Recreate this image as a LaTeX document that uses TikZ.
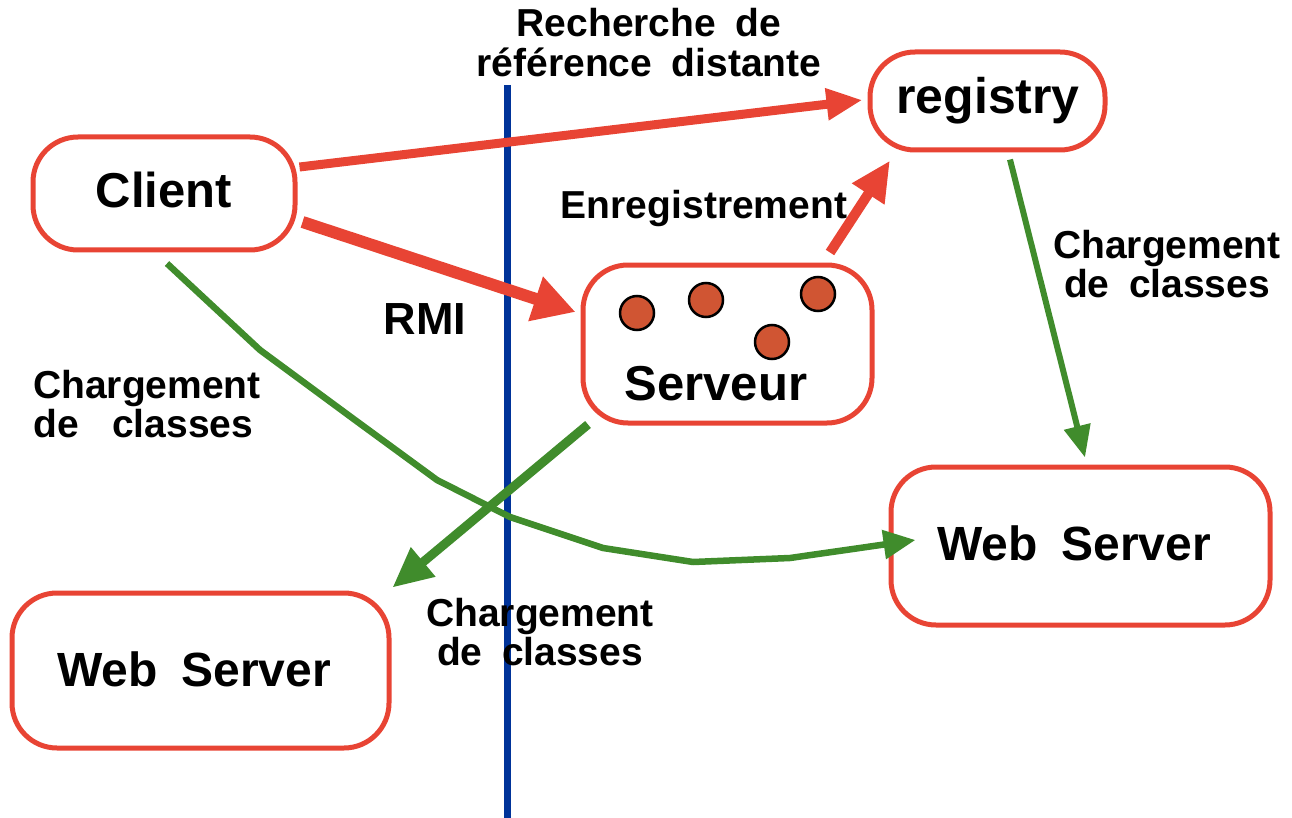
\documentclass[tikz,border=0pt]{standalone}
\usepackage{fontspec}
\setmainfont{Liberation Sans}[WordSpace=1.8]
\usetikzlibrary{arrows.meta,calc}
\definecolor{boxred}{RGB}{232,68,52}
\definecolor{linkgreen}{RGB}{64,140,44}
\definecolor{lineblue}{RGB}{0,51,153}
\definecolor{objdot}{RGB}{208,85,51}
\tikzset{
  roundbox/.style={draw=boxred, line width=5pt, rounded corners=45pt, fill=white, inner sep=0pt},
  boxtext/.style={anchor=base, inner sep=0pt, font=\bfseries\fontsize{49}{49}\selectfont},
  note/.style={inner sep=0pt, align=center, font=\bfseries\fontsize{39}{39}\selectfont},
  redarrow/.style={draw=boxred, line cap=butt},
  greenarrow/.style={draw=linkgreen, line join=round},
  obj/.style={circle, fill=objdot, draw=black, line width=2.5pt, minimum size=34pt, inner sep=0pt}
}
\begin{document}
\begin{tikzpicture}[x=1pt, y=-1pt]
\useasboundingbox (0,0) rectangle (1292,818);

% boundary between client side and server side
\coordinate (vtop) at (507,85);
\coordinate (vbot) at (507,818);
\draw[lineblue, line width=7pt] (vtop) -- (vbot);

% boxes
\node[roundbox, minimum width=262pt, minimum height=113pt] (cli) at (164,193.5) {};
\node[roundbox, minimum width=235pt, minimum height=98pt] (reg) at (987.5,101) {};
\node[roundbox, minimum width=289pt, minimum height=158pt] (srv) at (727.5,344) {};
\node[roundbox, minimum width=379pt, minimum height=158pt] (webr) at (1080.5,546) {};
\node[roundbox, minimum width=377pt, minimum height=155pt] (webl) at (200.5,670.5) {};

\node[boxtext] (clitxt) at (164,208) {Client};
\node[boxtext, font=\bfseries\fontsize{50}{50}\selectfont] (regtxt) at (988,114) {registry};
\node[boxtext] (srvtxt) at (716,400) {Serveur};
\node[boxtext, font=\bfseries\fontsize{48}{48}\selectfont] (webrtxt) at (1074,560) {Web Server};
\node[boxtext, font=\bfseries\fontsize{48}{48}\selectfont] (webltxt) at (194,686) {Web Server};

% remote objects inside the server
\node[obj] (o1) at (637,313) {};
\node[obj] (o2) at (706,300) {};
\node[obj] (o3) at (772,342) {};
\node[obj] (o4) at (818,294) {};

% red arrows: lookup, RMI call, registration
\draw[redarrow, line width=9pt, -{Triangle[length=36pt,width=30pt]}]
  ($(cli.east)+(2,-26.5)$) -- ($(reg.west)+(-5,-1)$);
\draw[redarrow, line width=12pt, -{Triangle[length=42pt,width=44pt]}]
  ($(cli.east)+(5,28.5)$) -- ($(srv.west)+(-5,-32)$);
\draw[redarrow, line width=10pt, -{Triangle[length=40pt,width=36pt]}]
  ($(srv.north)+(102.5,-10)$) -- ($(reg.south)+(-97.5,8)$);

% green arrows: class loading
\draw[greenarrow, line width=6pt, -{Triangle[length=32pt,width=26pt]}]
  ($(reg.south)+(22.5,7)$) -- ($(webr.north)+(4.5,-7)$);
\draw[greenarrow, line width=9pt, -{Triangle[length=40pt,width=36pt]}]
  ($(srv.south)+(-139.5,-1)$) -- ($(webl.north east)+(1,-3)$);
\draw[greenarrow, line width=6.5pt, -{Triangle[length=32pt,width=28pt]}]
  ($(cli.south)+(3,11)$) -- (260,350) -- (355,420) -- (437,480) -- (510,517)
  -- (603,548) -- (693,562) -- (790,558) -- ($(webr.west)+(27,-6)$);

% labels
\node[note] (lookup) at (649,43) {Recherche de\\[1pt]référence distante};
\node[note, anchor=base] (enreg) at (704,219) {Enregistrement};
\node[note, anchor=base, font=\bfseries\fontsize{45}{45}\selectfont] (rmi) at (425,334) {RMI};
\node[note, align=left, anchor=west] (loadl) at (33,404) {Chargement\\de\hspace{14pt} classes};
\node[note] (loadr) at (1167,264) {Chargement\\de classes};
\node[note] (loadb) at (540,632) {Chargement\\de classes};
\end{tikzpicture}
\end{document}
